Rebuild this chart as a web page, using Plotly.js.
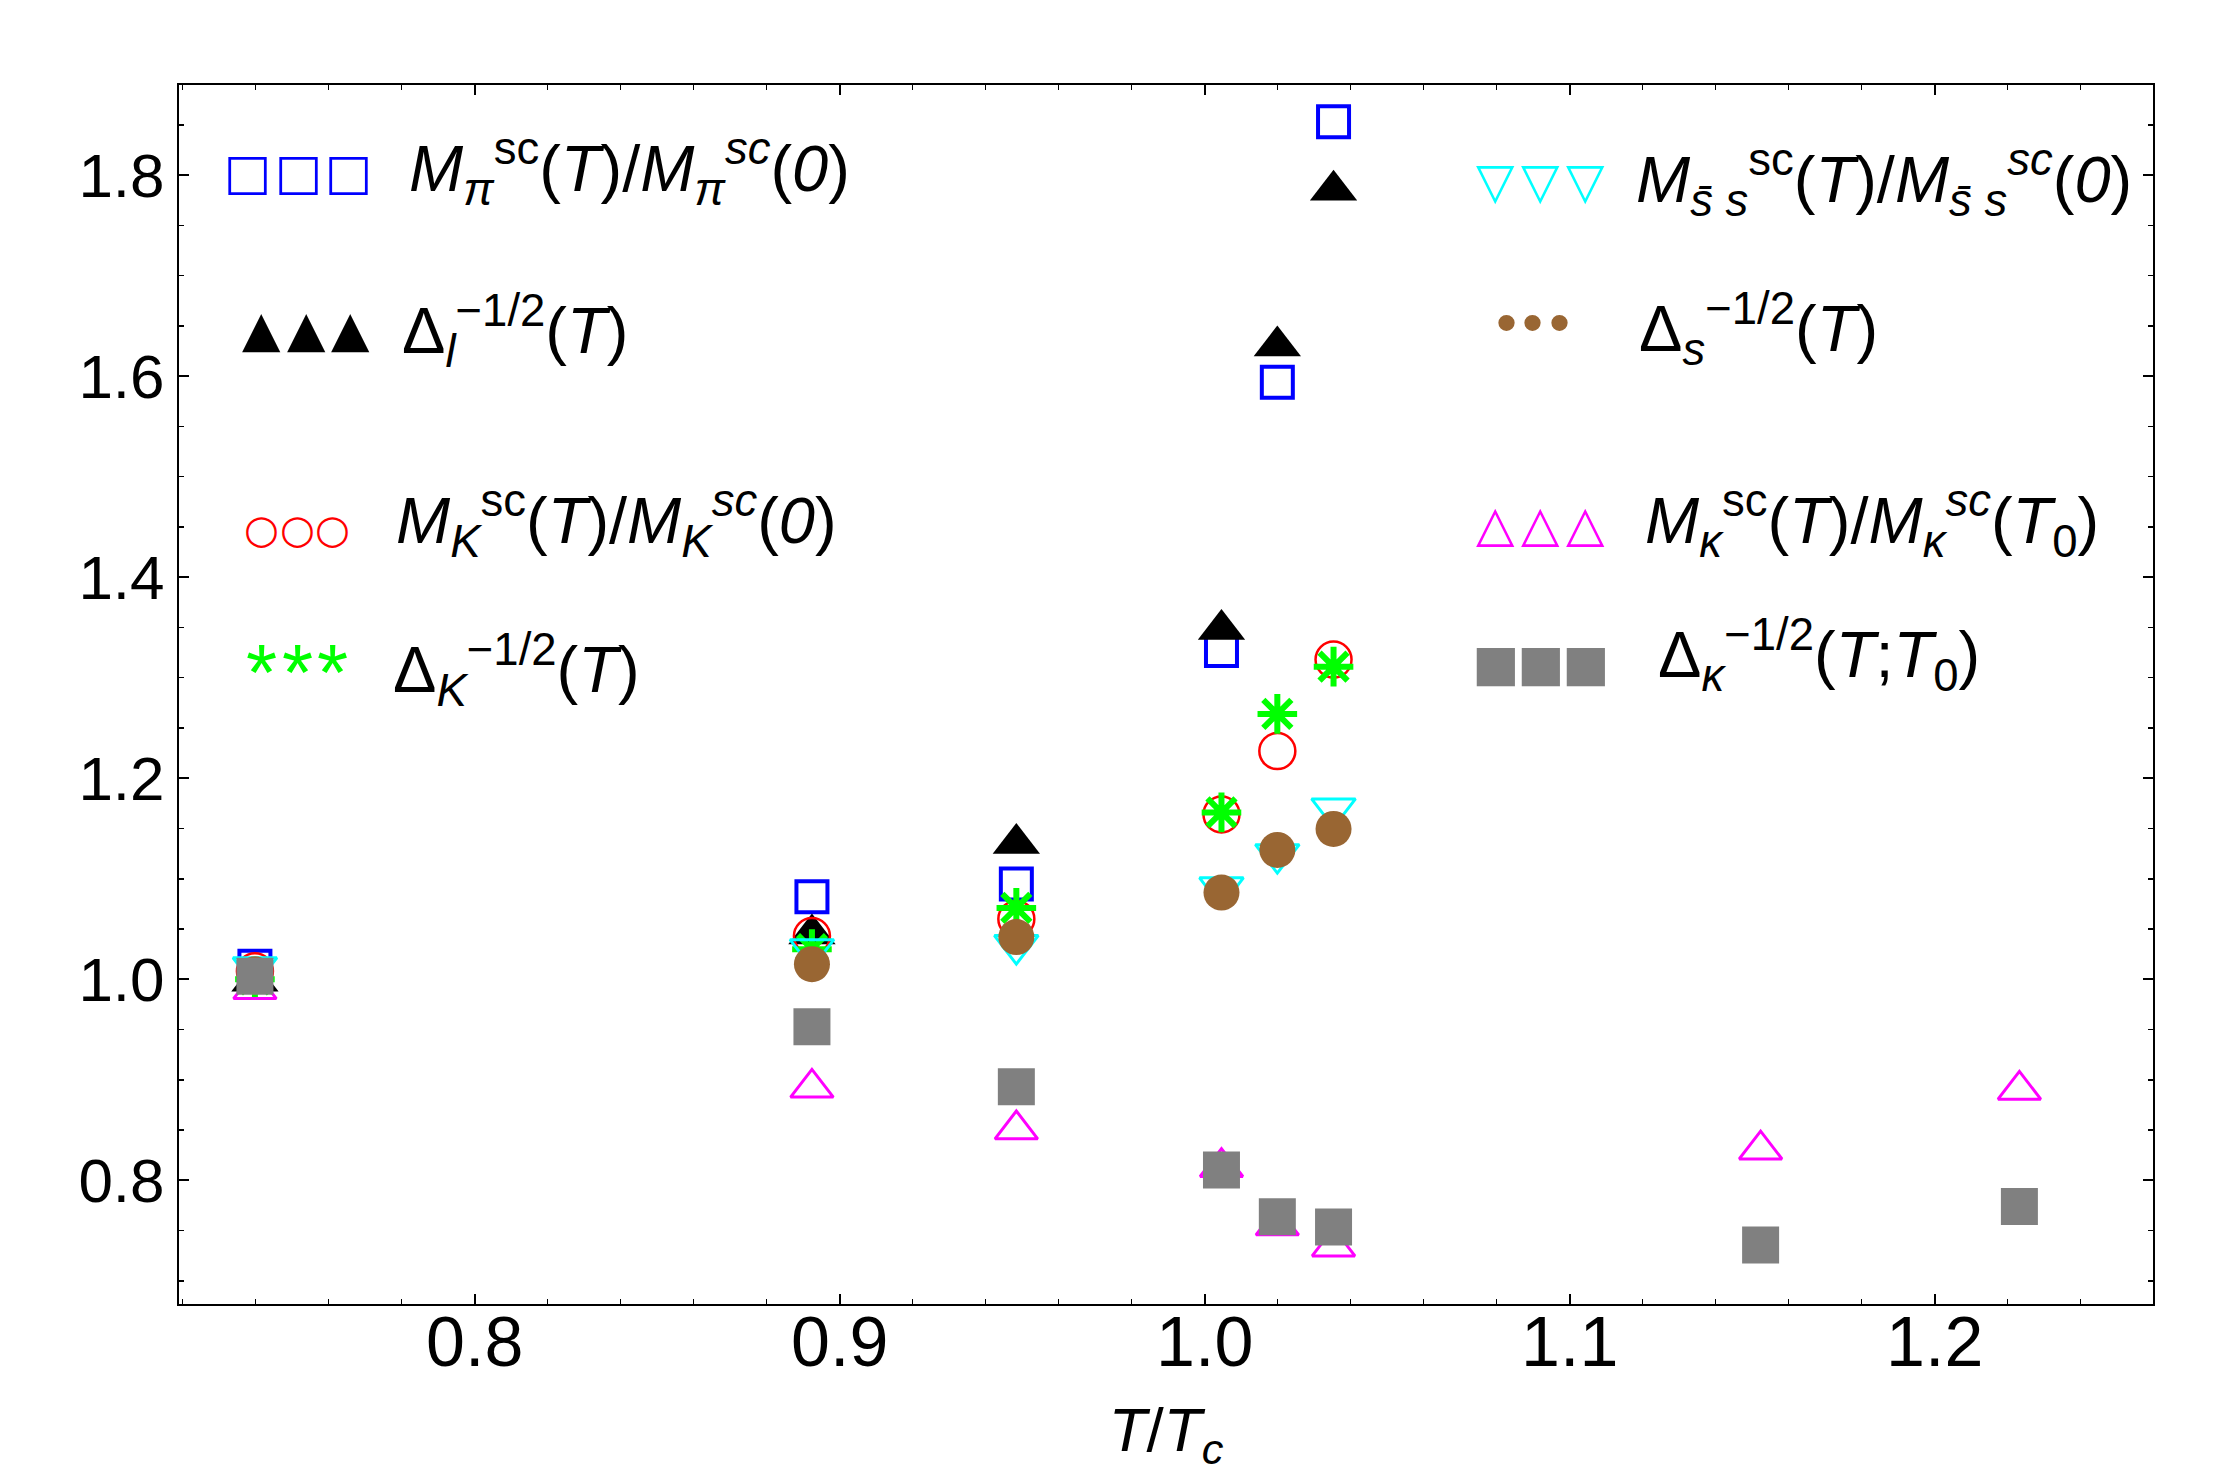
<!DOCTYPE html>
<html><head><meta charset="utf-8">
<script src="https://cdn.plot.ly/plotly-3.0.1.min.js"></script>
<style>html,body{margin:0;padding:0;background:#fff}</style>
</head><body><div id="chart" style="width:2240px;height:1473px"></div>
<script>
// ---- data ----
const tOverTc      = [0.7398, 0.8924, 0.9484, 1.0046, 1.0199, 1.0353, 1.1523, 1.2232];
const mPiRatio     = [1.013, 1.082, 1.0948, 1.327, 1.594, 1.853];
const deltaL       = [0.998, 1.045, 1.135, 1.348, 1.630, 1.785];
const mKRatio      = [1.008, 1.043, 1.060, 1.164, 1.227, 1.318];
const deltaK       = [1.000, 1.030, 1.071, 1.166, 1.264, 1.311];
const mSSRatio     = [1.012, 1.030, 1.034, 1.0915, 1.1245, 1.170];
const deltaS       = [1.005, 1.015, 1.042, 1.0863, 1.1287, 1.1496];
const mKappaRatio  = [0.990, 0.892, 0.8505, 0.813, 0.755, 0.734, 0.8305, 0.890];
const deltaKappa   = [1.003, 0.9527, 0.8931, 0.8104, 0.7638, 0.7537, 0.7357, 0.7741];

const seriesNames = [
  "<i>M</i><sub><i>π</i></sub><sup>sc</sup>(<i>T</i>)/<i>M</i><sub><i>π</i></sub><sup><i>sc</i></sup>(<i>0</i>)",
  "Δ<sub><i>l</i></sub><sup>−1/2</sup>(<i>T</i>)",
  "<i>M</i><sub><i>K</i></sub><sup>sc</sup>(<i>T</i>)/<i>M</i><sub><i>K</i></sub><sup><i>sc</i></sup>(<i>0</i>)",
  "Δ<sub><i>K</i></sub><sup>−1/2</sup>(<i>T</i>)",
  "<i>M</i><sub><i>s̄ s</i></sub><sup>sc</sup>(<i>T</i>)/<i>M</i><sub><i>s̄ s</i></sub><sup><i>sc</i></sup>(<i>0</i>)",
  "Δ<sub><i>s</i></sub><sup>−1/2</sup>(<i>T</i>)",
  "<i>M</i><sub><i>κ</i></sub><sup>sc</sup>(<i>T</i>)/<i>M</i><sub><i>κ</i></sub><sup><i>sc</i></sup>(<i>T</i><sub>0</sub>)",
  "Δ<sub><i>κ</i></sub><sup>−1/2</sup>(<i>T</i>;<i>T</i><sub>0</sub>)"
];
const legendGlyphs = ["□","▲","○","*","▽","•","△","■"];
const seriesColors = ["#0000FF","#000000","#FF0000","#00FF00","#00FFFF","#996633","#FF00FF","#808080"];

// ---- traces ----
const ys = [mPiRatio, deltaL, mKRatio, deltaK, mSSRatio, deltaS, mKappaRatio, deltaKappa];
const markerStyles = [
  {symbol:"square-open", size:31, lw:4},
  {symbol:"triangle-up", size:41, lw:0},
  {symbol:"circle-open", size:36, lw:2.5},
  {symbol:"asterisk-open", size:33, lw:6},
  {symbol:"triangle-down-open", size:38, lw:3},
  {symbol:"circle", size:36, lw:0},
  {symbol:"triangle-up-open", size:37, lw:3},
  {symbol:"square", size:37, lw:0}
];
const traces = ys.map((y, i) => ({
  type: "scatter", mode: "markers",
  x: tOverTc.slice(0, y.length), y: y,
  name: seriesNames[i], showlegend: false, cliponaxis: false,
  marker: {symbol: markerStyles[i].symbol, size: markerStyles[i].size,
           color: seriesColors[i],
           line: {color: seriesColors[i], width: markerStyles[i].lw}}
}));

// ---- legend drawn as text ----
const L = 179, R = 2153, T = 85, B = 1304;
const px = v => (v - L) / (R - L);
const py = v => (B - v) / (B - T);
const glyphX = [[247.5,298,348.5],[261,306,350],[261,297,332],[261,297,332],
                [1495,1540,1585],[1506,1532,1559],[1495,1540,1585],[1495,1540,1585]];
const glyphY = [171.6, 328.8, 528.8, 672, 181.4, 322.7, 524, 662.6];
const glyphSize = [50, 50, 40, 80, 50, 60, 50, 50];
const glyphWeight = ["bold","normal","normal","normal","normal","normal","normal","normal"];
const glyphFont = ["DejaVu Sans","DejaVu Sans","DejaVu Sans","Liberation Sans","DejaVu Sans","Liberation Sans","DejaVu Sans","DejaVu Sans"];
const labelX = [407, 400, 394, 391, 1634, 1637, 1643, 1656];
const labelY = [169, 331, 521, 670, 180, 329, 521, 655];
const annotations = [];
for (let i = 0; i < 8; i++) {
  for (let k = 0; k < 3; k++) {
    annotations.push({xref:"paper", yref:"paper", x: px(glyphX[i][k]), y: py(glyphY[i]),
      text: legendGlyphs[i], showarrow:false, xanchor:"center", yanchor:"middle",
      font:{family: glyphFont[i], size: glyphSize[i], color: seriesColors[i], weight: glyphWeight[i]}});
  }
  annotations.push({xref:"paper", yref:"paper", x: px(labelX[i]), y: py(labelY[i]),
    text: seriesNames[i], showarrow:false, xanchor:"left", yanchor:"middle",
    font:{family:"Liberation Sans", size:65, color:"#000"}});
}

const axisCommon = {
  showline:true, linecolor:"#000", linewidth:2, mirror:"allticks",
  ticks:"inside", ticklen:10, tickwidth:2, tickcolor:"#000",
  showgrid:false, zeroline:false, tickformat:".1f"
};
const layout = {
  width:2240, height:1473,
  margin:{l:L, r:2240-R, t:T, b:1473-B},
  paper_bgcolor:"#fff", plot_bgcolor:"#fff",
  showlegend:false,
  xaxis: Object.assign({}, axisCommon, {
    range:[0.719, 1.2598], tick0:0, dtick:0.1, ticklabelstandoff:-24,
    tickfont:{family:"Liberation Sans", size:70, color:"#000"},
    minor:{dtick:0.02, ticks:"inside", ticklen:5, tickwidth:1.5, tickcolor:"#000"},
    title:{text:"<i>T</i>/<i>T</i><sub><i>c</i></sub>", font:{family:"Liberation Sans", size:62, color:"#000"}, standoff:35}
  }),
  yaxis: Object.assign({}, axisCommon, {
    range:[0.677, 1.8896], tick0:0, dtick:0.2,
    tickfont:{family:"Liberation Sans", size:62, color:"#000"},
    minor:{dtick:0.05, ticks:"inside", ticklen:5, tickwidth:1.5, tickcolor:"#000"}
  }),
  annotations: annotations
};
Plotly.newPlot("chart", traces, layout, {displayModeBar:false, staticPlot:true});
</script>
</body></html>
